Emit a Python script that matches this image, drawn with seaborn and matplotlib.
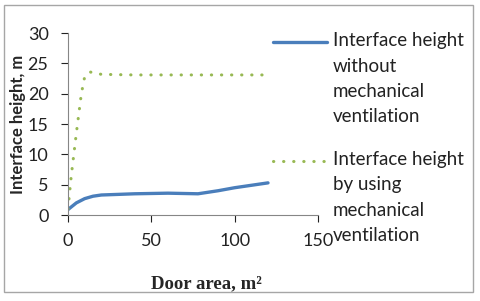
import pandas as pd
import matplotlib.pyplot as plt
import seaborn as sns
from matplotlib.patches import Rectangle

# door area (m2) and interface height (m)
door_without = [0, 5, 10, 15, 20, 40, 60, 78, 90, 100, 120]
height_without = [0.9, 2.0, 2.7, 3.1, 3.3, 3.5, 3.6, 3.5, 4.0, 4.5, 5.3]

door_with = [0, 2, 5, 8, 10, 13, 20, 40, 60, 80, 100, 120]
height_with = [1.0, 6.6, 13.5, 20.0, 22.8, 23.6, 23.2, 23.1, 23.1, 23.1, 23.1, 23.1]

label_without = "Interface height\nwithout\nmechanical\nventilation"
label_with = "Interface height\nby using\nmechanical\nventilation"

x_ticks = [0, 50, 100, 150]
y_ticks = [0, 5, 10, 15, 20, 25, 30]

sns.set_style("white")
plt.rcParams["font.family"] = ["Lato", "DejaVu Sans"]

fig = plt.figure(figsize=(4.8, 3.01), dpi=100)
ax = fig.add_axes([0.1417, 0.2857, 0.5208, 0.6043])

sns.lineplot(x=door_without, y=height_without, ax=ax, color="#4A7EBB",
             linewidth=2.4, label=label_without, solid_capstyle="round")
sns.lineplot(x=door_with, y=height_with, ax=ax, color="#98B954",
             linewidth=2.2, linestyle=(0, (0.1, 3.2)), dash_capstyle="round",
             label=label_with)

ax.set_xlim(0, 150)
ax.set_ylim(0, 30)
ax.set_xticks(x_ticks)
ax.set_yticks(y_ticks)
ax.tick_params(axis="both", labelsize=13, colors="#222222", length=5,
               width=0.8, direction="out", bottom=True, left=True)
ax.tick_params(axis="x", pad=8)
ax.tick_params(axis="y", pad=9)
for t in ax.get_xticklines() + ax.get_yticklines():
    t.set_color("#868686")
sns.despine(ax=ax)
for s in ["left", "bottom"]:
    ax.spines[s].set_color("#868686")
    ax.spines[s].set_linewidth(0.8)

ax.set_ylabel("Interface height, m", fontsize=12, fontweight="bold")
ax.yaxis.set_label_coords(-0.17, 0.5)
ax.set_xlabel("Door area, m²", fontsize=13.5, fontweight="bold",
              family="Liberation Serif")
ax.xaxis.set_label_coords(0.552, -0.33)

fs = 13.5
spacing = 1.6
pitch = 18.0  # points between legend text rows
leg = ax.legend(loc="upper left", bbox_to_anchor=(0.569, 0.893),
                bbox_transform=fig.transFigure, frameon=False,
                fontsize=fs, handlelength=2.9, handletextpad=0.3,
                labelspacing=1.37, borderaxespad=0, borderpad=0)
for t in leg.get_texts():
    t.set_linespacing(spacing)
    t.set_color("#222222")
# put each legend line on the first row of its label (Excel style)
for h in leg.legend_handles:
    h.set_ydata([y + 1.5 * pitch for y in h.get_ydata()])

fig.patches.append(Rectangle((0.008, 0.03), 0.977, 0.953, fill=False,
                             edgecolor="#A6A6A6", linewidth=1,
                             transform=fig.transFigure, figure=fig))

fig.savefig("out.png", dpi=100)
